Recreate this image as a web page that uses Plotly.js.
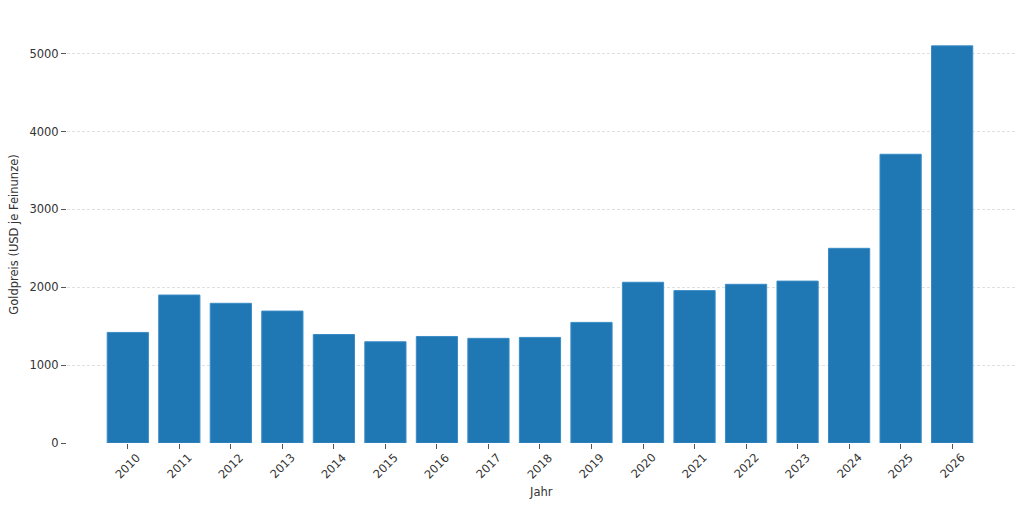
<!DOCTYPE html>
<html>
<head>
<meta charset="utf-8">
<script src="https://cdn.plot.ly/plotly-3.0.1.min.js"></script>
<style>html,body{margin:0;padding:0;background:#fff;}#chart{width:1024px;height:507px;}</style>
</head>
<body>
<div id="chart"></div>
<script>
const years = [2010, 2011, 2012, 2013, 2014, 2015, 2016, 2017, 2018, 2019, 2020, 2021, 2022, 2023, 2024, 2025, 2026];
const goldPrice = [1420, 1900, 1794, 1694, 1393, 1300, 1368, 1344, 1356, 1549, 2064, 1957, 2038, 2079, 2500, 3708, 5100];
const yTicks = [0, 1000, 2000, 3000, 4000, 5000];
const xTickLabels = years.map(String);

const trace = {
  type: 'bar',
  x: years,
  y: goldPrice,
  width: 0.8,
  marker: {color: '#1f77b4', line: {color: '#3a8cc6', width: 1}},
  hoverinfo: 'x+y'
};

const font = {family: '"DejaVu Sans", sans-serif', size: 11.5, color: '#333'};

// rotated x tick labels centred under each tick (matplotlib style)
const xLabelAnnotations = years.map((yr, i) => ({
  x: yr, y: 0, xref: 'x', yref: 'y',
  text: xTickLabels[i],
  textangle: -45,
  showarrow: false,
  xanchor: 'center', yanchor: 'top',
  yshift: -5,
  font: font
}));

const layout = {
  width: 1024,
  height: 507,
  margin: {l: 67, r: 9, t: 26, b: 64},
  paper_bgcolor: '#fff',
  plot_bgcolor: '#fff',
  font: font,
  showlegend: false,
  bargap: 0.2,
  annotations: xLabelAnnotations.concat([{
    x: 0.5, y: -0.117, xref: 'paper', yref: 'paper',
    text: 'Jahr', showarrow: false,
    xanchor: 'center', yanchor: 'middle', font: font
  }]),
  xaxis: {
    type: 'linear',
    range: [2008.82, 2027.22],
    tickmode: 'array',
    tickvals: years,
    showticklabels: false,
    ticks: 'outside',
    ticklen: 5,
    tickwidth: 1,
    tickcolor: '#555',
    showgrid: false,
    zeroline: false,
    showline: false,
    automargin: false
  },
  yaxis: {
    range: [0, 5355],
    tickmode: 'array',
    tickvals: yTicks,
    ticktext: yTicks.map(String),
    ticks: 'outside',
    ticklen: 5,
    tickwidth: 1,
    tickcolor: '#555',
    showgrid: true,
    gridcolor: '#d8d8d8',
    griddash: '3px,2px',
    gridwidth: 0.8,
    zeroline: false,
    showline: false,
    tickfont: font,
    title: {text: 'Goldpreis (USD je Feinunze)', font: font, standoff: 8},
    automargin: false
  }
};

Plotly.newPlot('chart', [trace], layout, {displayModeBar: false, staticPlot: true});
</script>
</body>
</html>
